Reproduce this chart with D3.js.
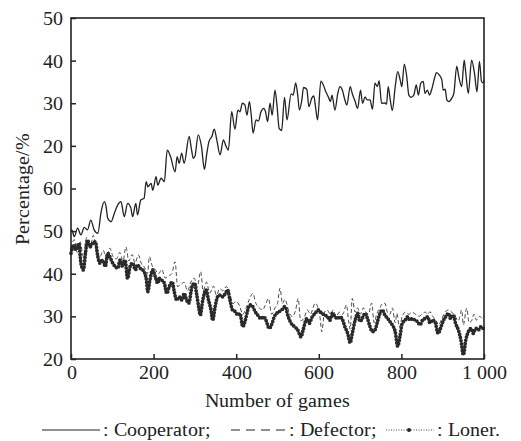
<!DOCTYPE html>
<html>
<head>
<meta charset="utf-8">
<script src="https://cdn.jsdelivr.net/npm/d3@7/dist/d3.min.js"></script>
<style>
  @font-face { font-family: "ChartSerif"; src: local("Liberation Serif"), local("LiberationSerif"), local("Times New Roman"); }
</style>
</head>
<body style="margin:0">
<svg id="chart" width="521" height="441"></svg>
<script>
// Axis ticks (the vertical axis reuses its labels after 60)
const yTickValues = [20, 30, 40, 50, 60, 70, 80, 90, 100];
const yTickLabels = ["20", "30", "40", "50", "60", "20", "30", "40", "50"];
const xTickValues = [0, 200, 400, 600, 800, 1000];
const xTickLabels = ["0", "200", "400", "600", "800", "1 000"];

// Cooperator share (turning points along the run)
const cooperatorGames = [0, 2, 8, 16, 24, 32, 40, 48, 56, 65, 73, 81, 85, 89, 97, 105, 113, 121, 129, 137, 145, 149, 157, 161, 169, 177, 182, 186, 194, 198, 206, 210, 218, 226, 233, 241, 252, 257, 262, 268, 274, 286, 292, 296, 300, 308, 316, 323, 329, 334, 341, 347, 353, 361, 369, 375, 381, 389, 397, 404, 409, 415, 421, 426, 432, 436, 441, 448, 454, 460, 467, 471, 476, 482, 487, 494, 499, 504, 510, 517, 523, 533, 538, 544, 549, 553, 559, 563, 571, 576, 583, 588, 592, 597, 605, 611, 617, 623, 628, 632, 639, 646, 651, 657, 662, 668, 676, 681, 688, 694, 701, 706, 712, 717, 724, 730, 736, 742, 746, 752, 760, 764, 768, 773, 778, 785, 791, 797, 801, 807, 813, 818, 823, 830, 836, 841, 847, 853, 857, 863, 868, 873, 880, 885, 892, 898, 901, 906, 910, 915, 922, 927, 934, 939, 946, 952, 956, 962, 970, 977, 983, 989, 994, 998, 1000];
const cooperatorValues = [50.0, 50.3, 48.7, 50.7, 49.1, 50.9, 50.3, 52.6, 50.3, 49.5, 54.6, 56.9, 55.7, 53.0, 52.2, 54.2, 56.1, 56.9, 53.4, 56.5, 55.4, 53.4, 56.5, 53.8, 57.3, 57.7, 61.6, 60.4, 61.2, 59.6, 62.8, 60.8, 62.4, 61.6, 69.0, 67.5, 63.9, 67.5, 65.9, 68.3, 65.9, 72.2, 69.0, 67.1, 67.5, 72.6, 69.8, 64.5, 68.3, 71.0, 72.2, 73.9, 71.4, 67.9, 71.4, 70.0, 69.0, 78.0, 73.9, 78.4, 78.0, 80.0, 79.6, 77.2, 80.4, 77.6, 73.0, 76.1, 75.8, 78.0, 78.8, 78.0, 75.7, 80.0, 77.2, 83.1, 79.2, 74.1, 73.6, 81.4, 76.1, 82.2, 81.9, 84.8, 81.9, 78.4, 80.8, 83.7, 83.3, 79.2, 81.2, 81.7, 79.2, 76.1, 85.2, 84.3, 82.7, 81.5, 80.4, 81.9, 78.4, 82.3, 83.9, 83.1, 81.2, 79.6, 83.9, 82.3, 80.4, 78.8, 83.1, 80.0, 81.5, 80.8, 80.8, 78.6, 84.7, 83.9, 85.3, 80.0, 80.1, 79.8, 83.9, 80.8, 78.3, 83.9, 87.4, 85.5, 83.9, 89.2, 86.2, 81.9, 81.4, 81.9, 84.3, 81.9, 84.7, 85.1, 82.3, 83.1, 81.9, 83.1, 85.8, 87.2, 86.6, 85.5, 83.1, 83.3, 80.8, 80.4, 81.2, 82.3, 88.7, 86.2, 83.9, 90.1, 87.0, 82.3, 90.1, 87.0, 82.7, 89.8, 85.1, 84.8, 85.5];

// Defector share
const defectorGames = [0, 8, 15, 22, 30, 38, 46, 54, 62, 70, 78, 86, 94, 102, 110, 118, 126, 133, 140, 148, 155, 163, 170, 178, 185, 190, 196, 204, 212, 220, 228, 236, 244, 252, 258, 266, 274, 282, 290, 298, 306, 314, 320, 328, 336, 345, 352, 360, 368, 376, 384, 392, 400, 408, 416, 424, 432, 440, 448, 456, 464, 470, 478, 486, 494, 500, 506, 512, 518, 522, 528, 536, 544, 550, 556, 564, 572, 580, 586, 591, 598, 604, 607, 614, 620, 628, 635, 642, 650, 658, 667, 672, 676, 681, 688, 694, 700, 708, 714, 720, 728, 734, 740, 748, 754, 760, 766, 772, 778, 785, 789, 795, 802, 810, 818, 826, 834, 842, 850, 858, 864, 869, 876, 884, 890, 898, 906, 914, 922, 930, 938, 946, 950, 958, 964, 970, 976, 982, 990, 996, 1000];
const defectorValues = [46.0, 48.0, 45.0, 47.5, 44.0, 48.5, 46.0, 49.0, 45.0, 44.0, 45.5, 43.5, 46.0, 44.0, 43.5, 45.0, 43.0, 46.3, 43.0, 44.5, 42.5, 44.4, 42.5, 41.5, 40.0, 44.0, 42.0, 41.0, 40.0, 41.0, 39.0, 39.5, 40.0, 42.8, 37.0, 37.5, 38.0, 36.0, 38.0, 39.0, 37.0, 40.5, 36.0, 38.0, 35.5, 37.1, 35.0, 36.5, 36.0, 37.0, 35.5, 33.0, 33.5, 32.5, 30.5, 32.0, 34.0, 35.4, 33.0, 32.0, 31.5, 32.5, 34.2, 30.5, 32.0, 33.0, 36.6, 33.0, 34.0, 33.1, 31.0, 30.0, 31.5, 34.2, 29.0, 29.5, 31.5, 30.5, 32.0, 33.1, 32.0, 29.0, 26.4, 31.0, 31.5, 30.5, 31.5, 30.0, 31.0, 30.5, 32.7, 29.0, 27.0, 34.2, 31.0, 32.0, 30.5, 32.0, 31.0, 30.5, 33.1, 28.5, 30.5, 32.0, 33.0, 33.1, 31.0, 30.5, 32.0, 28.5, 30.7, 27.5, 30.0, 31.0, 30.5, 31.0, 30.5, 30.0, 30.5, 31.0, 30.5, 31.1, 30.0, 29.0, 28.0, 29.5, 31.0, 31.5, 31.0, 30.0, 29.0, 31.5, 28.0, 31.9, 28.5, 29.0, 30.5, 29.1, 30.0, 29.5, 30.0];

// Loner share
const lonerGames = [0, 6, 12, 19, 24, 30, 35, 40, 46, 52, 59, 65, 70, 77, 83, 89, 94, 101, 107, 113, 119, 125, 131, 137, 143, 149, 156, 161, 167, 174, 182, 186, 191, 198, 204, 210, 214, 220, 226, 232, 238, 245, 250, 256, 262, 269, 274, 280, 285, 293, 299, 304, 309, 313, 319, 327, 333, 339, 343, 349, 355, 361, 367, 374, 379, 385, 391, 398, 404, 409, 416, 422, 428, 433, 440, 446, 452, 460, 467, 472, 480, 487, 492, 498, 510, 518, 526, 533, 541, 549, 557, 562, 571, 577, 584, 591, 599, 607, 615, 621, 627, 633, 639, 646, 651, 658, 663, 670, 676, 681, 688, 694, 700, 705, 712, 718, 724, 730, 736, 743, 748, 754, 760, 767, 772, 778, 785, 791, 797, 802, 809, 815, 821, 826, 833, 839, 845, 851, 857, 864, 869, 875, 881, 889, 896, 902, 907, 914, 919, 926, 931, 938, 944, 950, 956, 962, 969, 974, 980, 986, 993, 998, 1000];
const lonerValues = [44.8, 46.7, 45.6, 47.1, 42.5, 40.9, 44.8, 47.9, 46.3, 47.1, 47.5, 44.0, 42.5, 43.2, 41.7, 44.8, 44.0, 42.5, 41.7, 41.3, 43.2, 41.7, 43.2, 38.9, 41.7, 42.5, 40.9, 42.1, 41.3, 40.9, 38.9, 35.8, 38.5, 40.9, 39.3, 37.8, 38.9, 38.5, 37.8, 35.4, 37.0, 38.1, 35.8, 33.8, 34.6, 33.8, 35.4, 33.8, 33.1, 37.0, 37.8, 35.4, 32.3, 30.3, 33.8, 36.2, 33.8, 31.5, 29.1, 32.3, 34.6, 35.0, 34.6, 35.4, 36.2, 33.8, 31.5, 31.1, 30.3, 30.7, 27.6, 29.1, 31.5, 32.7, 32.3, 31.1, 30.3, 29.5, 29.9, 29.1, 27.2, 28.4, 29.9, 30.7, 31.5, 32.3, 29.9, 28.4, 27.6, 26.8, 25.2, 26.8, 29.5, 28.4, 29.9, 30.7, 31.5, 30.7, 30.3, 29.9, 29.1, 30.7, 29.9, 29.5, 29.9, 29.1, 27.6, 26.0, 23.8, 26.0, 29.1, 30.7, 28.8, 29.5, 30.7, 29.5, 27.6, 26.4, 26.8, 29.1, 30.7, 31.5, 30.3, 29.5, 28.8, 28.0, 26.4, 23.0, 25.6, 28.4, 29.1, 29.9, 29.1, 29.5, 29.1, 28.8, 28.0, 29.1, 29.5, 29.9, 28.4, 29.1, 28.8, 26.0, 27.6, 29.1, 29.9, 30.7, 29.5, 30.3, 28.4, 26.8, 24.5, 21.0, 24.5, 26.4, 27.2, 26.0, 27.2, 26.8, 27.6, 27.2, 27.5];

const SERIF = "ChartSerif, 'Liberation Serif', 'Times New Roman', serif";

const svg = d3.select("#chart");
const margin = { left: 71, right: 37, top: 18, bottom: 82 };
const W = 521, H = 441;
const innerW = W - margin.left - margin.right;
const innerH = H - margin.top - margin.bottom;

const x = d3.scaleLinear().domain([0, 1000]).range([0, innerW]);
const y = d3.scaleLinear().domain([20, 100]).range([innerH, 0]);

const g = svg.append("g").attr("transform", `translate(${margin.left},${margin.top})`);

const toPoints = (gs, vs) => gs.map((d, i) => [d, vs[i]]);
const line = d3.line().x(d => x(d[0])).y(d => y(d[1])).curve(d3.curveMonotoneX);

const plot = g.append("g");

// Defector: thin dashed line
plot.append("path")
  .attr("d", line(toPoints(defectorGames, defectorValues)))
  .attr("fill", "none")
  .attr("stroke", "#333")
  .attr("stroke-width", 0.9)
  .attr("stroke-dasharray", "4,2.5");

// Loner: heavy dotted band
plot.append("path")
  .attr("d", line(toPoints(lonerGames, lonerValues)))
  .attr("fill", "none")
  .attr("stroke", "#2a2a2a")
  .attr("stroke-width", 3.8)
  .attr("stroke-linecap", "round")
  .attr("stroke-dasharray", "0,3.2");

// Cooperator: solid line
plot.append("path")
  .attr("d", line(toPoints(cooperatorGames, cooperatorValues)))
  .attr("fill", "none")
  .attr("stroke", "#222")
  .attr("stroke-width", 1.3);

// Axes with inward ticks
const xAxis = d3.axisBottom(x).tickValues(xTickValues)
  .tickFormat((d, i) => xTickLabels[i]).tickSizeInner(-5).tickSizeOuter(0).tickPadding(6);
const yAxis = d3.axisLeft(y).tickValues(yTickValues)
  .tickFormat((d, i) => yTickLabels[i]).tickSizeInner(-5).tickSizeOuter(0).tickPadding(8);

const gx = g.append("g").attr("transform", `translate(0,${innerH})`).call(xAxis);
const gy = g.append("g").call(yAxis);
[gx, gy].forEach(a => {
  a.select(".domain").remove();
  a.selectAll(".tick line").attr("stroke", "#222").attr("stroke-width", 1.5);
  a.selectAll(".tick text").attr("fill", "#222").attr("class", "lbl");
});

// Frame
g.append("rect")
  .attr("x", 0).attr("y", 0).attr("width", innerW).attr("height", innerH)
  .attr("fill", "none").attr("stroke", "#222").attr("stroke-width", 1.6);

// Axis titles
svg.append("text").attr("class", "lbl")
  .attr("x", margin.left + innerW / 2).attr("y", 407)
  .attr("text-anchor", "middle").attr("fill", "#222")
  .text("Number of games");

svg.append("text").attr("class", "lbl")
  .attr("transform", `translate(29,${margin.top + innerH / 2}) rotate(-90)`)
  .attr("text-anchor", "middle").attr("fill", "#222")
  .text("Percentage/%");

// Legend
const ly = 436;
const lg = svg.append("g").attr("fill", "#222");
lg.append("line").attr("x1", 42).attr("x2", 100).attr("y1", ly - 6).attr("y2", ly - 6)
  .attr("stroke", "#222").attr("stroke-width", 1.2);
lg.append("text").attr("class", "lbl").attr("x", 103).attr("y", ly).text(": Cooperator;");
lg.append("line").attr("x1", 231).attr("x2", 286).attr("y1", ly - 6).attr("y2", ly - 6)
  .attr("stroke", "#222").attr("stroke-width", 1.2).attr("stroke-dasharray", "9,6");
lg.append("text").attr("class", "lbl").attr("x", 289).attr("y", ly).text(": Defector;");
lg.append("line").attr("x1", 386).attr("x2", 434).attr("y1", ly - 6).attr("y2", ly - 6)
  .attr("stroke", "#444").attr("stroke-width", 1).attr("stroke-dasharray", "1,1.5");
lg.append("circle").attr("cx", 409).attr("cy", ly - 6).attr("r", 2).attr("fill", "#222");
lg.append("text").attr("class", "lbl").attr("x", 437).attr("y", ly).text(": Loner.");

// Apply the serif face to every label, and re-apply once the face is ready
function applyFont() {
  svg.selectAll(".lbl")
    .attr("font-family", SERIF)
    .style("font-family", SERIF)
    .style("font-size", "20px");
}
applyFont();
if (document.fonts && document.fonts.load) {
  document.fonts.load("20px ChartSerif").then(applyFont).catch(() => {});
  document.fonts.load("20px 'Liberation Serif'").then(applyFont).catch(() => {});
}
</script>
</body>
</html>
